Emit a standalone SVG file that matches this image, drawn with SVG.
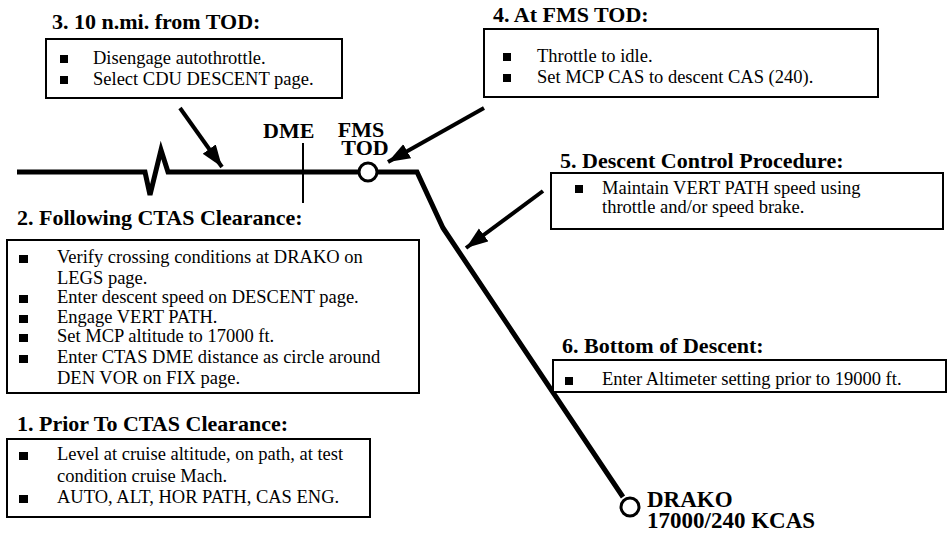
<svg xmlns="http://www.w3.org/2000/svg" width="948" height="539" viewBox="0 0 948 539">
  <style>
    .title { font-family: "Liberation Serif", "Times New Roman", serif; font-weight: bold; font-size: 22px; fill: #000; }
    .label { font-family: "Liberation Serif", "Times New Roman", serif; font-weight: bold; font-size: 22px; fill: #000; }
    .fixname { font-family: "Liberation Serif", "Times New Roman", serif; font-weight: bold; font-size: 23px; fill: #000; }
    .body { font-family: "Liberation Serif", "Times New Roman", serif; font-size: 18.5px; fill: #000; }
    .box { fill: #fff; stroke: #000; stroke-width: 2; }
    .bullet { fill: #000; }
    .path { fill: none; stroke: #000; stroke-width: 5; stroke-linejoin: miter; }
    .fix { fill: #fff; stroke: #000; stroke-width: 3; }
    .arrow { fill: none; stroke: #000; stroke-width: 4; marker-end: url(#head); }
    .tick { stroke: #000; stroke-width: 2; }
  </style>
  <defs>
    <marker id="head" markerUnits="userSpaceOnUse" markerWidth="24" markerHeight="18" refX="22" refY="8" orient="auto">
      <path d="M0,0 L22,8 L0,16 Z" fill="#000"/>
    </marker>
  </defs>
  <rect width="948" height="539" fill="#fff"/>

  <!-- flight path with cruise break, TOD and DRAKO -->
  <g id="flight-path">
    <path class="path" d="M17,172 L145,172 L150,195 L161,150 L168,172 L417,172 L443,228 L623,497"/>
    <line class="tick" x1="303" y1="143" x2="303" y2="203"/>
    <circle class="fix" cx="368" cy="172" r="9"/>
    <circle class="fix" cx="630" cy="507" r="9"/>
    <text class="label" x="263" y="138">DME</text>
    <text class="label" x="361" y="137" text-anchor="middle">FMS</text>
    <text class="label" x="365" y="155" text-anchor="middle">TOD</text>
    <text class="fixname" x="647" y="507">DRAKO</text>
    <text class="fixname" x="647" y="528">17000/240 KCAS</text>
  </g>

  <g id="connectors">
    <line class="arrow" x1="180" y1="108" x2="222" y2="167"/>
    <line class="arrow" x1="484" y1="108" x2="388" y2="162"/>
    <line class="arrow" x1="543" y1="191" x2="466" y2="248"/>
  </g>

  <g id="step3">
    <text class="title" x="52" y="29">3. 10 n.mi. from TOD:</text>
    <rect class="box" x="46" y="39" width="296" height="59"/>
    <rect class="bullet" x="60" y="55" width="8" height="8"/>
    <text class="body" x="93" y="64">Disengage autothrottle.</text>
    <rect class="bullet" x="60" y="76" width="8" height="8"/>
    <text class="body" x="93" y="85">Select CDU DESCENT page.</text>
  </g>

  <g id="step4">
    <text class="title" x="493" y="22">4. At FMS TOD:</text>
    <rect class="box" x="484" y="29" width="394" height="68"/>
    <rect class="bullet" x="503" y="53" width="8" height="8"/>
    <text class="body" x="537" y="62">Throttle to idle.</text>
    <rect class="bullet" x="503" y="74" width="8" height="8"/>
    <text class="body" x="537" y="83">Set MCP CAS to descent CAS (240).</text>
  </g>

  <g id="step5">
    <text class="title" x="560" y="168">5. Descent Control Procedure:</text>
    <rect class="box" x="551" y="173" width="392" height="56"/>
    <rect class="bullet" x="575" y="185" width="8" height="8"/>
    <text class="body" x="602" y="194">Maintain VERT PATH speed using</text>
    <text class="body" x="602" y="213">throttle and/or speed brake.</text>
  </g>

  <g id="step2">
    <text class="title" x="17" y="225">2. Following CTAS Clearance:</text>
    <rect class="box" x="7" y="240" width="412" height="153"/>
    <rect class="bullet" x="19" y="255" width="9" height="8"/>
    <text class="body" x="57" y="263">Verify crossing conditions at DRAKO on</text>
    <text class="body" x="57" y="284">LEGS page.</text>
    <rect class="bullet" x="19" y="295" width="9" height="8"/>
    <text class="body" x="57" y="303">Enter descent speed on DESCENT page.</text>
    <rect class="bullet" x="19" y="315" width="9" height="8"/>
    <text class="body" x="57" y="323">Engage VERT PATH.</text>
    <rect class="bullet" x="19" y="334" width="9" height="8"/>
    <text class="body" x="57" y="342">Set MCP altitude to 17000 ft.</text>
    <rect class="bullet" x="19" y="355" width="9" height="8"/>
    <text class="body" x="57" y="363">Enter CTAS DME distance as circle around</text>
    <text class="body" x="57" y="384">DEN VOR on FIX page.</text>
  </g>

  <g id="step1">
    <text class="title" x="17" y="431">1. Prior To CTAS Clearance:</text>
    <rect class="box" x="7" y="439" width="363" height="78"/>
    <rect class="bullet" x="19" y="452" width="9" height="8"/>
    <text class="body" x="57" y="460">Level at cruise altitude, on path, at test</text>
    <text class="body" x="57" y="482">condition cruise Mach.</text>
    <rect class="bullet" x="19" y="495" width="9" height="8"/>
    <text class="body" x="57" y="503">AUTO, ALT, HOR PATH, CAS ENG.</text>
  </g>

  <g id="step6">
    <text class="title" x="562" y="353">6. Bottom of Descent:</text>
    <rect class="box" x="553" y="360" width="393" height="32"/>
    <rect class="bullet" x="565" y="377" width="8" height="8"/>
    <text class="body" x="602" y="385">Enter Altimeter setting prior to 19000 ft.</text>
  </g>
</svg>
